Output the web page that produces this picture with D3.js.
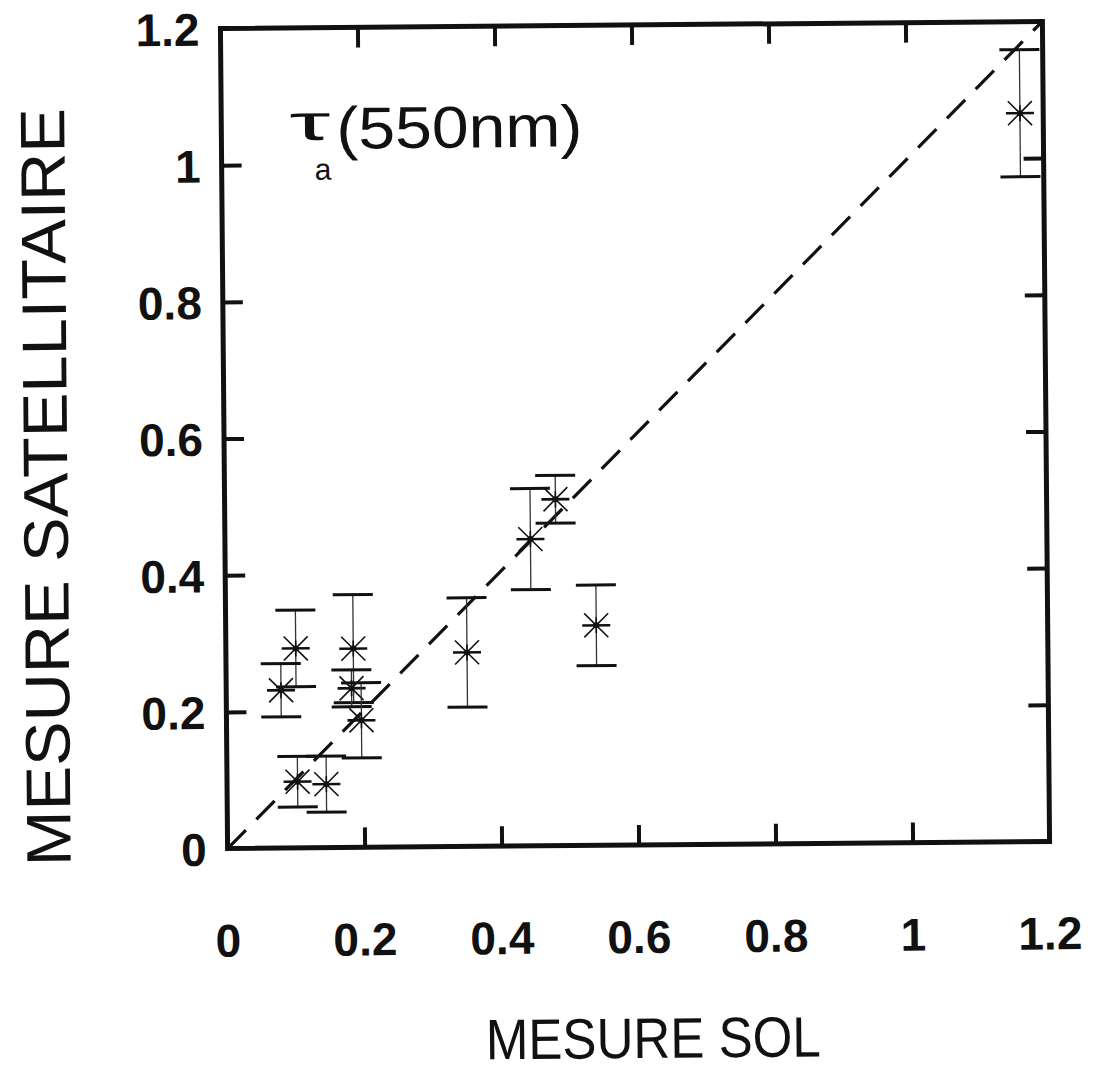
<!DOCTYPE html>
<html>
<head>
<meta charset="utf-8">
<script src="https://cdn.jsdelivr.net/npm/d3@7/dist/d3.min.js"></script>
<style>
  html, body { margin: 0; padding: 0; background: #fff; }
  svg { display: block; }
  text { font-family: "Liberation Sans", Arial, Helvetica, sans-serif; fill: #111; }
</style>
</head>
<body>
<svg id="chart" width="1094" height="1071"></svg>
<script>
// ---- data (ground measurement vs satellite measurement of aerosol optical depth at 550 nm)
const groundValues    = [0.102, 0.080, 0.186, 0.183, 0.197, 0.103, 0.145, 0.352, 0.446, 0.483, 0.541, 1.166];
const satelliteValues = [0.292, 0.231, 0.291, 0.233, 0.186, 0.097, 0.093, 0.284, 0.449, 0.507, 0.322, 1.066];
const satelliteErrors = [0.056, 0.039, 0.079, 0.027, 0.055, 0.037, 0.041, 0.080, 0.074, 0.035, 0.059, 0.093];
const tickValues = [0, 0.2, 0.4, 0.6, 0.8, 1.0, 1.2];
const tickLabels = ["0", "0.2", "0.4", "0.6", "0.8", "1", "1.2"];
const xTitle = "MESURE SOL";
const yTitle = "MESURE SATELLITAIRE";
const panelLabel = "(550nm)";

// ---- layout
const mLeft = 224, mRight = 1046, mTop = 25, mBottom = 845;
const cx = (mLeft + mRight) / 2, cy = (mTop + mBottom) / 2;

const svg = d3.select("#chart");
svg.append("rect").attr("width", 1094).attr("height", 1071).attr("fill", "#fff");

// the scanned figure is very slightly rotated
const g = svg.append("g").attr("transform", `rotate(-0.5, ${cx}, ${cy})`);

const x = d3.scaleLinear().domain([0, 1.2]).range([mLeft, mRight]);
const y = d3.scaleLinear().domain([0, 1.2]).range([mBottom, mTop]);

// ---- inward ticks on all four sides via d3 axes (labels drawn separately)
const tickLen = 20;
const axStyle = sel => {
  sel.select(".domain").remove();
  sel.selectAll(".tick line").attr("stroke", "#111").attr("stroke-width", 4);
  sel.selectAll(".tick text").remove();
};
const inner = tickValues.slice(1, -1);
g.append("g").attr("transform", `translate(0,${mBottom})`)
  .call(d3.axisBottom(x).tickValues(inner).tickSizeInner(-tickLen).tickSizeOuter(0)).call(axStyle);
g.append("g").attr("transform", `translate(0,${mTop})`)
  .call(d3.axisTop(x).tickValues(inner).tickSizeInner(-tickLen).tickSizeOuter(0)).call(axStyle);
g.append("g").attr("transform", `translate(${mLeft},0)`)
  .call(d3.axisLeft(y).tickValues(inner).tickSizeInner(-tickLen).tickSizeOuter(0)).call(axStyle);
g.append("g").attr("transform", `translate(${mRight},0)`)
  .call(d3.axisRight(y).tickValues(inner).tickSizeInner(-tickLen).tickSizeOuter(0)).call(axStyle);

// frame
g.append("rect")
  .attr("x", x(0)).attr("y", y(1.2))
  .attr("width", x(1.2) - x(0)).attr("height", y(0) - y(1.2))
  .attr("fill", "none").attr("stroke", "#111").attr("stroke-width", 5);

// tick labels
g.append("g").selectAll("text").data(tickValues).join("text")
  .attr("x", d => x(d)).attr("y", 953)
  .attr("text-anchor", "middle")
  .attr("font-size", 46).attr("font-weight", "bold")
  .text((d, i) => tickLabels[i]);
g.append("g").selectAll("text").data(tickValues).join("text")
  .attr("x", 203).attr("y", d => y(d) + 17)
  .attr("text-anchor", "end")
  .attr("font-size", 46).attr("font-weight", "bold")
  .text((d, i) => tickLabels[i]);

// axis titles
g.append("text")
  .attr("x", 648).attr("y", 1058)
  .attr("text-anchor", "middle")
  .attr("font-size", 57)
  .attr("textLength", 335).attr("lengthAdjust", "spacingAndGlyphs")
  .text(xTitle);
g.append("text")
  .attr("transform", `translate(67,482) rotate(-90)`)
  .attr("text-anchor", "middle")
  .attr("font-size", 63)
  .attr("textLength", 758).attr("lengthAdjust", "spacingAndGlyphs")
  .text(yTitle);

// panel label tau_a(550nm)
g.append("text")
  .attr("x", 292).attr("y", 137)
  .attr("font-family", "'DejaVu Serif', 'Liberation Serif', serif")
  .attr("font-size", 50)
  .attr("textLength", 41).attr("lengthAdjust", "spacingAndGlyphs")
  .text("τ");
g.append("text")
  .attr("x", 317).attr("y", 177)
  .attr("font-size", 30)
  .text("a");
g.append("text")
  .attr("x", 339).attr("y", 146)
  .attr("font-size", 59)
  .attr("textLength", 246).attr("lengthAdjust", "spacingAndGlyphs")
  .text(panelLabel);

// 1:1 dashed line
g.append("line")
  .attr("x1", x(0)).attr("y1", y(0))
  .attr("x2", x(1.2)).attr("y2", y(1.2))
  .attr("stroke", "#111").attr("stroke-width", 3.2)
  .attr("stroke-dasharray", "26,15");

// points with error bars
const pts = groundValues.map((gv, i) => ({ gx: gv, sy: satelliteValues[i], e: satelliteErrors[i] }));
const capHalf = 20;
const pg = g.append("g").selectAll("g").data(pts).join("g");

pg.append("line")
  .attr("x1", d => x(d.gx)).attr("x2", d => x(d.gx))
  .attr("y1", d => y(d.sy + d.e)).attr("y2", d => y(d.sy - d.e))
  .attr("stroke", "#333").attr("stroke-width", 1.3);
pg.append("line")
  .attr("x1", d => x(d.gx) - capHalf).attr("x2", d => x(d.gx) + capHalf)
  .attr("y1", d => y(d.sy + d.e)).attr("y2", d => y(d.sy + d.e))
  .attr("stroke", "#111").attr("stroke-width", 3);
pg.append("line")
  .attr("x1", d => x(d.gx) - capHalf).attr("x2", d => x(d.gx) + capHalf)
  .attr("y1", d => y(d.sy - d.e)).attr("y2", d => y(d.sy - d.e))
  .attr("stroke", "#111").attr("stroke-width", 3);

// asterisk markers
const h = 14, dg = 12;
pg.append("line")
  .attr("x1", d => x(d.gx) - h).attr("x2", d => x(d.gx) + h)
  .attr("y1", d => y(d.sy)).attr("y2", d => y(d.sy))
  .attr("stroke", "#111").attr("stroke-width", 2.6);
pg.append("line")
  .attr("x1", d => x(d.gx) - dg).attr("x2", d => x(d.gx) + dg)
  .attr("y1", d => y(d.sy) - dg).attr("y2", d => y(d.sy) + dg)
  .attr("stroke", "#111").attr("stroke-width", 1.6);
pg.append("line")
  .attr("x1", d => x(d.gx) - dg).attr("x2", d => x(d.gx) + dg)
  .attr("y1", d => y(d.sy) + dg).attr("y2", d => y(d.sy) - dg)
  .attr("stroke", "#111").attr("stroke-width", 1.6);
pg.append("line")
  .attr("x1", d => x(d.gx)).attr("x2", d => x(d.gx))
  .attr("y1", d => y(d.sy) - 8).attr("y2", d => y(d.sy) + 8)
  .attr("stroke", "#111").attr("stroke-width", 1.6);
pg.append("circle")
  .attr("cx", d => x(d.gx)).attr("cy", d => y(d.sy)).attr("r", 3)
  .attr("fill", "#111");
</script>
</body>
</html>
